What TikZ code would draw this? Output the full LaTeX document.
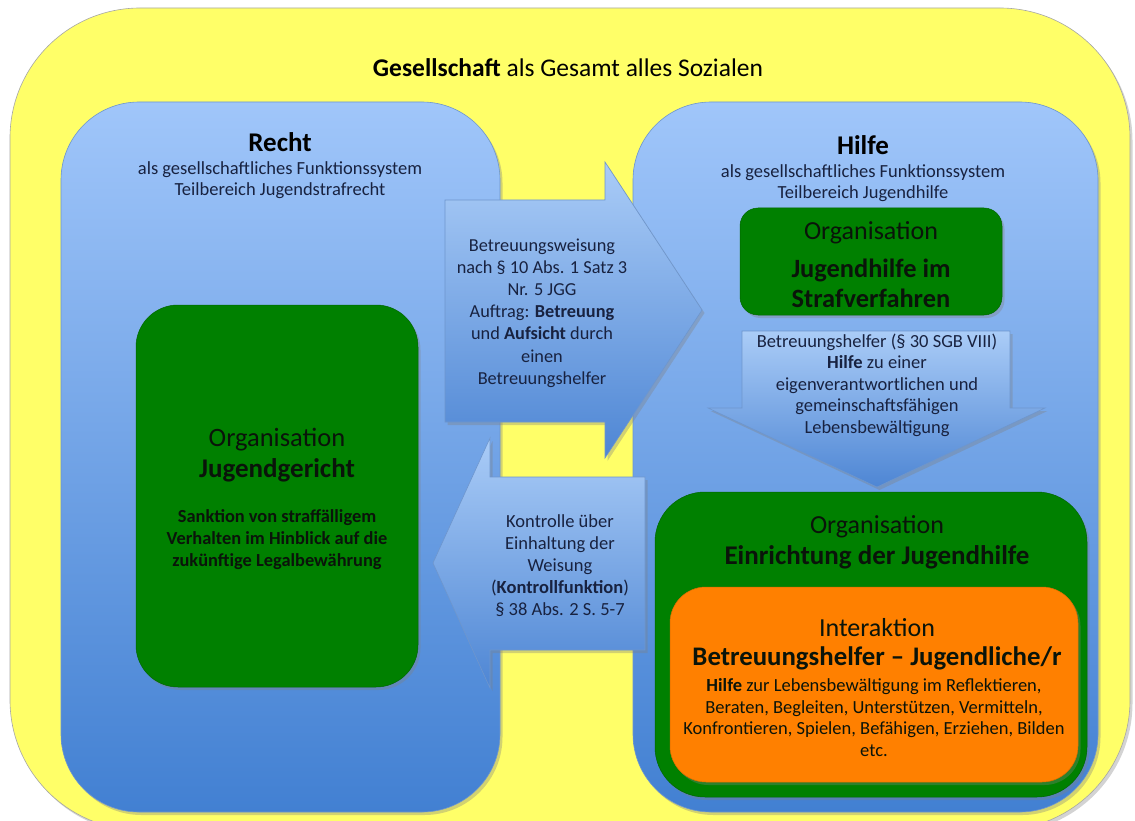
\documentclass[tikz,border=0pt]{standalone}
\usepackage{fontspec}
\setmainfont{Carlito}
\usetikzlibrary{shadows}
\definecolor{ybg}{RGB}{255,255,104}
\definecolor{navy}{RGB}{24,34,64}
\definecolor{grn}{RGB}{0,128,0}
\definecolor{org}{RGB}{255,128,0}
\definecolor{bluetop}{RGB}{160,198,250}
\definecolor{bluebot}{RGB}{66,128,210}
\definecolor{blueline}{RGB}{110,150,205}
\definecolor{arrtop}{RGB}{170,204,247}
\definecolor{arrbot}{RGB}{78,134,212}
\definecolor{darktxt}{RGB}{10,20,10}
\tikzset{
  shad/.style={drop shadow={opacity=0.35,shadow xshift=2.5pt,shadow yshift=-3pt}},
  yellowbox/.style={draw=gray!70, line width=0.6pt, fill=ybg, rounded corners=130pt, inner sep=0pt, shad},
  bluebox/.style={draw=blueline, line width=0.6pt, top color=bluetop, bottom color=bluebot, rounded corners=78pt, inner sep=0pt, shad},
  greenbox/.style={draw=grn!80!black, line width=0.5pt, fill=grn, inner sep=0pt, shad},
  orangebox/.style={draw=org!85!black, line width=0.5pt, fill=org, inner sep=0pt, shad},
  arrowshape/.style={draw=blueline, line width=0.6pt, top color=arrtop, bottom color=arrbot, shad},
  txt/.style={inner sep=0pt, align=center},
  navytxt/.style={txt, text=navy},
  blacktxt/.style={txt, text=darktxt},
}
\begin{document}
\begin{tikzpicture}[x=1pt,y=-1pt]
\useasboundingbox (0,0) rectangle (1135,821);
% outer society box
\node[yellowbox, minimum width=1120, minimum height=822] (ges) at (570,419) {};
\node[txt, font=\fontsize{25.5}{30}\selectfont] (gestxt) at (568,68) {\textbf{Gesellschaft} als Gesamt alles Sozialen};

% function systems
\node[bluebox, minimum width=439, minimum height=710] (recht) at (280.5,457) {};
\node[bluebox, minimum width=465, minimum height=710] (hilfe) at (865.5,457) {};

\node[txt, text=black, font=\fontsize{27}{30}\selectfont\bfseries] (rechtT) at (280,142) {Recht};
\node[navytxt, font=\fontsize{18.5}{21}\selectfont] (rechtS) at (280,180) {als gesellschaftliches Funktionssystem\\Teilbereich Jugendstrafrecht};

\node[txt, text=black, font=\fontsize{27}{30}\selectfont\bfseries] (hilfeT) at (863,145) {Hilfe};
\node[navytxt, font=\fontsize{18.5}{21}\selectfont] (hilfeS) at (863,183) {als gesellschaftliches Funktionssystem\\Teilbereich Jugendhilfe};

% Jugendgericht
\node[greenbox, rounded corners=42pt, minimum width=282, minimum height=382] (jg) at (277,496) {};
\node[blacktxt, font=\fontsize{26.5}{30}\selectfont] (jgO) at (277,440) {Organisation};
\node[blacktxt, font=\fontsize{27}{30}\selectfont\bfseries] (jgN) at (277,470) {Jugendgericht};
\node[blacktxt, font=\fontsize{18.4}{22}\selectfont\bfseries] (jgT) at (277,540) {Sanktion von straffälligem\\Verhalten im Hinblick auf die\\zukünftige Legalbewährung};

% Jugendhilfe im Strafverfahren
\node[greenbox, rounded corners=18pt, minimum width=262, minimum height=107] (jhs) at (871,261.5) {};
\node[blacktxt, font=\fontsize{26}{30}\selectfont] (jhsO) at (871,233) {Organisation};
\node[blacktxt, font=\fontsize{26.4}{30}\selectfont\bfseries] (jhsN) at (871,283) {Jugendhilfe im\\Strafverfahren};

% down arrow
\path[arrowshape] (742,331) -- (1010,331) -- (1010,408) -- (1045,408) -- (877,487) -- (708,408) -- (742,408) -- cycle;
\node[navytxt, font=\fontsize{18.5}{21.5}\selectfont] (downT) at (877,385) {Betreuungshelfer (§ 30 SGB VIII)\\\textbf{Hilfe} zu einer\\eigenverantwortlichen und\\gemeinschaftsfähigen\\Lebensbewältigung};

% Einrichtung der Jugendhilfe
\node[greenbox, rounded corners=50pt, minimum width=432, minimum height=305] (ej) at (871,644.5) {};
\node[blacktxt, font=\fontsize{26}{30}\selectfont] (ejO) at (877,527) {Organisation};
\node[blacktxt, font=\fontsize{27}{30}\selectfont\bfseries] (ejN) at (877,557) {Einrichtung der Jugendhilfe};

% Interaktion
\node[orangebox, rounded corners=36pt, minimum width=408, minimum height=195] (ia) at (874,684.5) {};
\node[blacktxt, font=\fontsize{26}{30}\selectfont] (iaO) at (877,628) {Interaktion};
\node[blacktxt, font=\fontsize{26.8}{30}\selectfont\bfseries] (iaN) at (877,658) {Betreuungshelfer – Jugendliche/r};
\node[blacktxt, font=\fontsize{18.5}{21.7}\selectfont] (iaT) at (874,717.5) {\textbf{Hilfe} zur Lebensbewältigung im Reflektieren,\\Beraten, Begleiten, Unterstützen, Vermitteln,\\Konfrontieren, Spielen, Befähigen, Erziehen, Bilden\\etc.};

% right arrow (Recht -> Hilfe)
\path[arrowshape] (445,200) -- (605,200) -- (605,162) -- (702,310) -- (605,458) -- (605,422) -- (445,422) -- cycle;
\node[navytxt, font=\fontsize{18.3}{22.2}\selectfont] (raT) at (542,313) {Betreuungsweisung\\nach § 10 Abs. 1 Satz 3\\Nr. 5 JGG\\Auftrag: \textbf{Betreuung}\\und \textbf{Aufsicht} durch\\einen\\Betreuungshelfer};

% left arrow (Hilfe -> Recht)
\path[arrowshape] (645,477) -- (490,477) -- (490,438) -- (433,563) -- (490,688) -- (490,650) -- (645,650) -- cycle;
\node[navytxt, font=\fontsize{18.5}{22}\selectfont] (laT) at (560,566) {Kontrolle über\\Einhaltung der\\Weisung\\(\textbf{Kontrollfunktion})\\§ 38 Abs. 2 S. 5-7};
\end{tikzpicture}
\end{document}
